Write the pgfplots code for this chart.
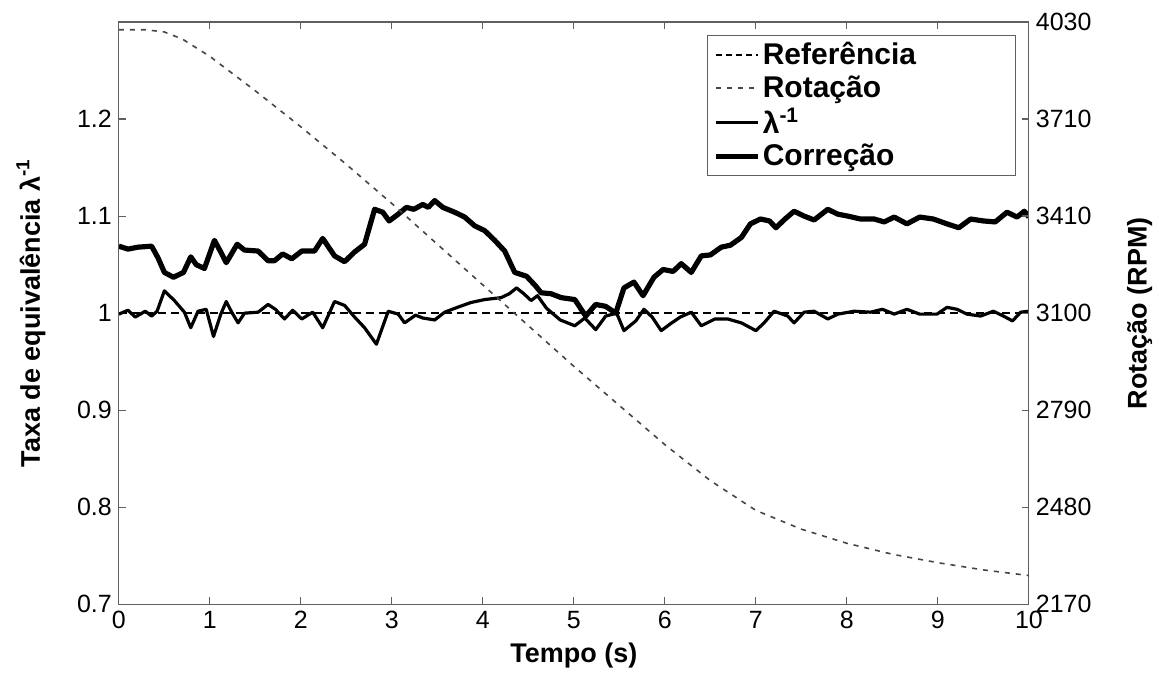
\documentclass[border=0pt]{standalone}
\usepackage{pgfplots}
\usepackage{pgfplotstable}
\pgfplotsset{compat=1.18}
\usepackage{fontspec}
\setmainfont{Liberation Sans}

\pgfplotstableread{
t v
0 1.069
0.10 1.066
0.21 1.068
0.36 1.069
0.43 1.057
0.50 1.042
0.60 1.037
0.71 1.042
0.79 1.058
0.85 1.050
0.94 1.046
1.05 1.075
1.12 1.063
1.18 1.052
1.30 1.071
1.38 1.065
1.53 1.064
1.64 1.054
1.71 1.054
1.80 1.061
1.90 1.056
2.01 1.064
2.15 1.064
2.24 1.077
2.37 1.059
2.48 1.053
2.59 1.063
2.70 1.071
2.81 1.107
2.90 1.104
2.97 1.095
3.07 1.102
3.16 1.109
3.24 1.107
3.34 1.112
3.40 1.109
3.47 1.116
3.56 1.109
3.69 1.104
3.80 1.099
3.91 1.090
4.02 1.085
4.13 1.075
4.24 1.064
4.35 1.042
4.48 1.038
4.58 1.028
4.64 1.021
4.75 1.020
4.86 1.016
5.01 1.014
5.13 0.997
5.24 1.009
5.35 1.007
5.46 1.000
5.55 1.026
5.66 1.032
5.76 1.018
5.88 1.037
5.98 1.045
6.09 1.043
6.18 1.051
6.29 1.042
6.40 1.059
6.50 1.060
6.62 1.068
6.72 1.070
6.84 1.078
6.94 1.092
7.05 1.097
7.15 1.095
7.22 1.088
7.32 1.097
7.42 1.105
7.53 1.100
7.64 1.096
7.79 1.107
7.90 1.102
8.01 1.100
8.15 1.097
8.30 1.097
8.41 1.094
8.52 1.099
8.66 1.092
8.80 1.099
8.95 1.097
9.10 1.092
9.23 1.088
9.36 1.097
9.50 1.095
9.63 1.094
9.76 1.104
9.87 1.099
9.95 1.105
10.0 1.099
}\corr

\pgfplotstableread{
t v
0 0.999
0.10 1.003
0.18 0.996
0.29 1.002
0.36 0.997
0.42 1.002
0.50 1.023
0.61 1.013
0.72 1.001
0.79 0.985
0.87 1.002
0.96 1.004
1.04 0.976
1.12 0.999
1.18 1.012
1.24 1.001
1.31 0.990
1.38 1.000
1.53 1.001
1.64 1.009
1.72 1.004
1.82 0.994
1.91 1.003
2.01 0.994
2.13 1.001
2.24 0.985
2.37 1.012
2.48 1.008
2.59 0.996
2.70 0.985
2.83 0.968
2.96 1.002
3.07 0.999
3.14 0.990
3.26 0.998
3.34 0.995
3.47 0.993
3.58 1.001
3.72 1.006
3.87 1.011
4.02 1.014
4.20 1.016
4.29 1.020
4.37 1.026
4.45 1.020
4.53 1.013
4.60 1.018
4.70 1.005
4.85 0.993
5.01 0.987
5.12 0.995
5.24 0.983
5.35 0.997
5.47 1.000
5.55 0.982
5.68 0.992
5.77 1.004
5.86 0.996
5.96 0.982
6.06 0.989
6.17 0.996
6.29 1.001
6.40 0.987
6.55 0.994
6.69 0.994
6.84 0.990
7.00 0.982
7.09 0.990
7.20 1.002
7.35 0.997
7.42 0.990
7.53 1.001
7.64 1.002
7.79 0.994
7.90 0.999
8.08 1.002
8.26 1.001
8.39 1.004
8.52 0.999
8.66 1.004
8.80 0.999
8.99 0.999
9.10 1.006
9.21 1.004
9.32 0.999
9.47 0.997
9.61 1.002
9.72 0.997
9.82 0.992
9.91 1.001
10.0 1.002
}\lam

\pgfplotstableread{
t rpm
0 4005
0.3 4005
0.5 3998
0.7 3975
1.0 3920
1.5 3810
2.0 3695
2.5 3575
3.0 3450
3.5 3320
4.0 3190
4.5 3060
5.0 2930
5.5 2805
6.0 2680
6.5 2565
7.0 2470
7.5 2410
8.0 2365
8.5 2330
9.0 2303
9.5 2280
10.0 2262
}\rot

\begin{document}
\begin{tikzpicture}
\pgfplotsset{
  every axis/.append style={
    scale only axis, width=455.5pt, height=291.5pt,
    xmin=0, xmax=10,
    axis line style={draw=gray!75!black, line width=0.6pt},
    tick style={draw=gray!75!black, line width=0.6pt},
    major tick length=3.5pt,
    tick align=inside,
    ticklabel style={font=\fontsize{12.5}{15}\selectfont},
    /pgf/number format/assume math mode=true,
    label style={font=\bfseries\fontsize{13.5}{16}\selectfont},
  }
}
\begin{axis}[name=ax, ymin=0.7, ymax=1.3,
  xtick={0,1,...,10}, xtick pos=both, ytick pos=left,
  ytick={0.7,0.8,0.9,1,1.1,1.2}, yticklabels={0.7,0.8,0.9,1,1.1,1.2},
  xlabel={Tempo (s)}, ylabel={Taxa de equivalência λ\textsuperscript{-1}},
  ylabel style={yshift=9pt}]
\addplot[black, line width=1.3pt, dash pattern=on 4pt off 2.5pt] coordinates {(0,1) (10,1)};
\addplot[black, line width=1.6pt, line join=round] table[x=t, y=v] {\lam};
\addplot[black, line width=2.6pt, line join=round] table[x=t, y=v] {\corr};
\end{axis}
\begin{axis}[ymin=2170, ymax=4030, axis x line=none, axis y line*=right,
  ytick={2170,2480,2790,3100,3410,3720,4030},
  yticklabels={2170,2480,2790,3100,3410,3710,4030},
  ylabel={Rotação (RPM)}, ylabel style={yshift=-11pt},
  legend cell align=left,
  legend image code/.code={\draw[#1] (0pt,0pt) -- (21pt,0pt);},
  legend style={at={(0.6465,0.978)}, anchor=north west, draw=gray!75!black, line width=0.5pt,
    font=\bfseries\fontsize{15}{17}\selectfont, row sep=1pt, inner xsep=3pt, inner ysep=2pt,
    nodes={inner xsep=1pt, inner ysep=1.5pt}}]
\addlegendimage{black, line width=1.3pt, dash pattern=on 3pt off 2pt}
\addlegendentry{Referência\hspace*{46pt}}
\addplot[gray!55!black, line width=0.8pt, dash pattern=on 2.5pt off 3pt] table[x=t, y=rpm] {\rot};
\addlegendentry{Rotação}
\addlegendimage{black, line width=1.6pt}
\addlegendentry{λ\textsuperscript{-1}}
\addlegendimage{black, line width=2.6pt}
\addlegendentry{Correção}
\end{axis}
\path ([xshift=-59.5pt, yshift=-37pt] ax.south west) rectangle ([xshift=64.5pt, yshift=11pt] ax.north east);
\end{tikzpicture}
\end{document}
